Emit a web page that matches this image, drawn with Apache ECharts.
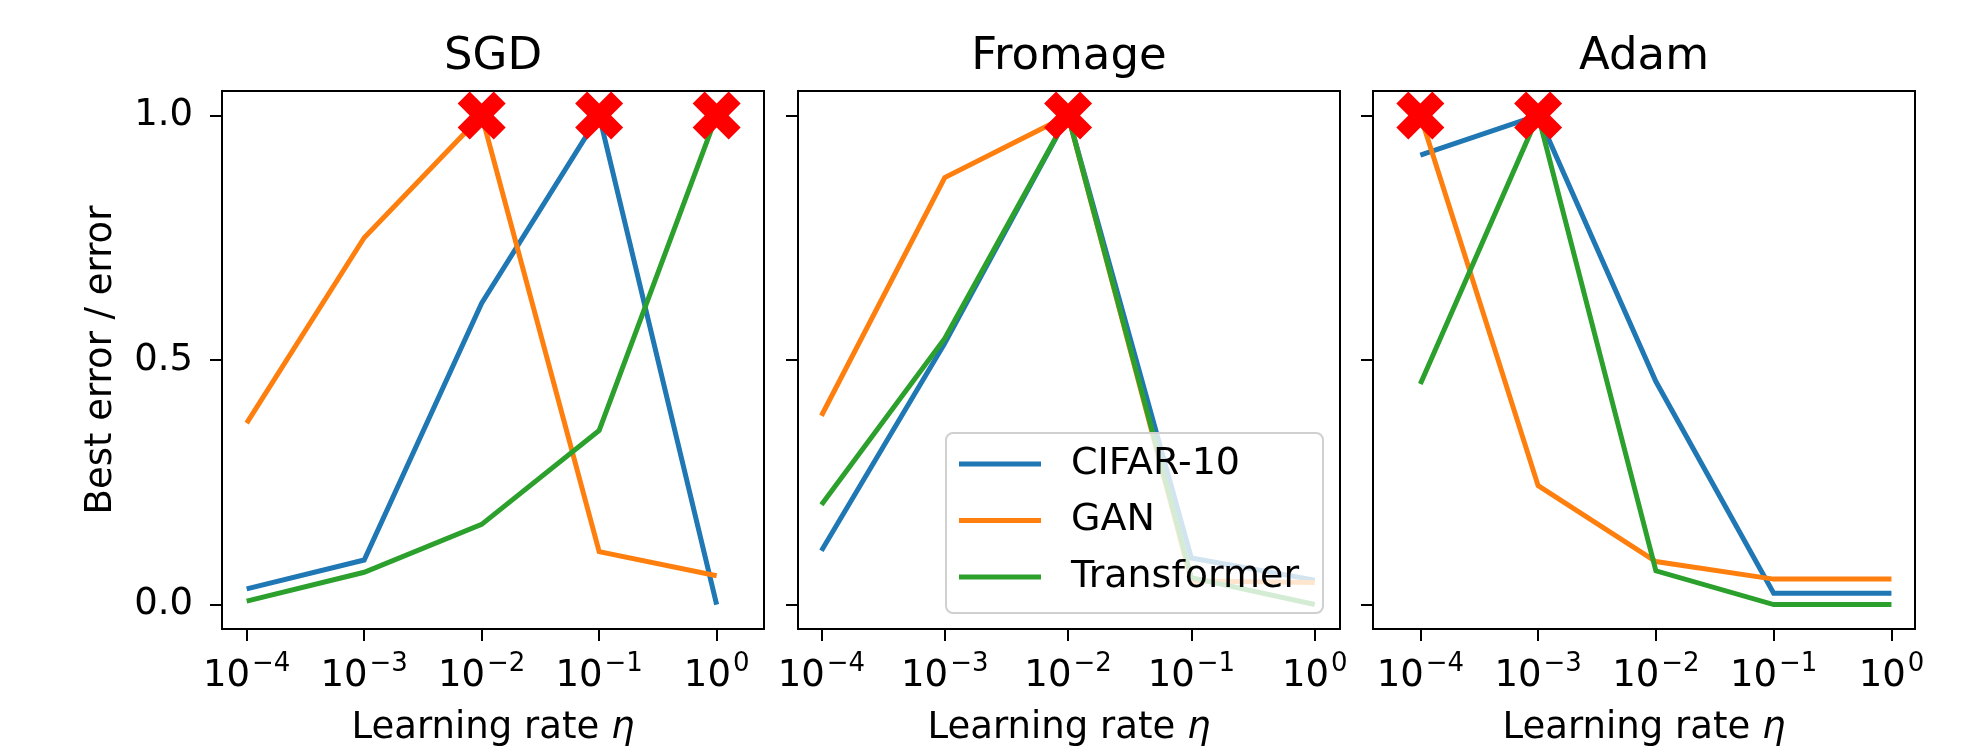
<!DOCTYPE html>
<html>
<head>
<meta charset="utf-8">
<script src="https://cdn.jsdelivr.net/npm/echarts@6/dist/echarts.min.js"></script>
<style>
  html, body { margin: 0; padding: 0; background: #fff; }
  #chart { width: 1972px; height: 752px; }
</style>
</head>
<body>
<div id="chart"></div>
<script>
// ---- data ----
const panelTitles = ['SGD', 'Fromage', 'Adam'];
const seriesNames = ['CIFAR-10', 'GAN', 'Transformer'];
const learningRates = [1e-4, 1e-3, 1e-2, 1e-1, 1];
const tickExponents = [-4, -3, -2, -1, 0];
const yTicks = [0, 0.5, 1.0];

const sgdCifar = [0.032, 0.091, 0.616, 1.0, 0.0];
const sgdGan = [0.371, 0.750, 1.0, 0.108, 0.059];
const sgdTransformer = [0.007, 0.066, 0.164, 0.356, 1.0];

const fromageCifar = [0.110, 0.534, 1.0, 0.095, 0.050];
const fromageGan = [0.386, 0.873, 1.0, 0.048, 0.045];
const fromageTransformer = [0.204, 0.544, 1.0, 0.055, 0.0];

const adamCifar = [0.919, 1.0, 0.456, 0.023, 0.023];
const adamGan = [1.0, 0.243, 0.088, 0.052, 0.052];
const adamTransformer = [0.451, 1.0, 0.069, 0.0, 0.0];

const sgdBest = [1e-2, 1e-1, 1];
const fromageBest = [1e-2];
const adamBest = [1e-4, 1e-3];

// ---- layout / style ----
const FONT = 'DejaVu Sans';
const colors = ['#1f77b4', '#ff7f0e', '#2ca02c'];
const gridLefts = [222, 798, 1373];
const gridWidth = 542;
const gridTop = 91;
const gridHeight = 538;
const xRanges = [[-4.21, 0.403], [-4.19, 0.205], [-4.402, 0.2]];
const yRange = [-0.05, 1.05];

const panelData = [
  [sgdCifar, sgdGan, sgdTransformer],
  [fromageCifar, fromageGan, fromageTransformer],
  [adamCifar, adamGan, adamTransformer]
];
const panelBest = [sgdBest, fromageBest, adamBest];

const xMarkPath = 'path://M3 0 L4 1 L3 2 L4 3 L3 4 L2 3 L1 4 L0 3 L1 2 L0 1 L1 0 L2 1 Z';

function expLabel(v) {
  const e = Math.round(v);
  const s = String(e).replace('-', '\u2212');
  return '{b|10}{s|' + s + '}';
}

const grids = [], xAxes = [], yAxes = [], titles = [], series = [];
for (let p = 0; p < 3; p++) {
  grids.push({
    left: gridLefts[p], top: gridTop, width: gridWidth, height: gridHeight,
    show: true, borderColor: '#000', borderWidth: 2, backgroundColor: 'transparent',
    containLabel: false
  });
  titles.push({
    text: panelTitles[p],
    left: gridLefts[p] + gridWidth / 2,
    top: 35,
    padding: 0,
    textAlign: 'center',
    textStyle: { fontFamily: FONT, fontSize: 45, fontWeight: 'normal', color: '#000' }
  });
  xAxes.push({
    type: 'value', gridIndex: p, min: xRanges[p][0], max: xRanges[p][1],
    splitLine: { show: false },
    axisLine: { show: true, onZero: false, lineStyle: { color: '#000', width: 2 } },
    axisTick: { show: true, length: 12, lineStyle: { color: '#000', width: 2 }, customValues: tickExponents },
    axisLabel: {
      show: true, margin: 22, customValues: tickExponents,
      formatter: expLabel, color: '#000', fontFamily: FONT,
      rich: {
        b: { fontFamily: FONT, fontSize: 37, color: '#000', lineHeight: 44, verticalAlign: 'bottom' },
        s: { fontFamily: FONT, fontSize: 26, color: '#000', lineHeight: 44, verticalAlign: 'top', padding: [0, 0, 0, 2] }
      }
    },
    name: 'Learning rate {i|\u03b7}',
    nameLocation: 'middle', nameGap: 81,
    nameTextStyle: {
      fontFamily: FONT, fontSize: 37, color: '#000',
      rich: { i: { fontFamily: FONT, fontSize: 37, fontStyle: 'italic', color: '#000' } }
    }
  });
  yAxes.push({
    type: 'value', gridIndex: p, min: yRange[0], max: yRange[1],
    splitLine: { show: false },
    axisLine: { show: true, onZero: false, lineStyle: { color: '#000', width: 2 } },
    axisTick: { show: true, length: 12, lineStyle: { color: '#000', width: 2 }, customValues: yTicks },
    axisLabel: {
      show: p === 0, margin: 29, customValues: yTicks,
      formatter: v => v.toFixed(1),
      fontFamily: FONT, fontSize: 37, color: '#000'
    },
    name: p === 0 ? 'Best error / error' : '',
    nameLocation: 'middle', nameGap: 102,
    nameTextStyle: { fontFamily: FONT, fontSize: 37, color: '#000' }
  });
  for (let k = 0; k < 3; k++) {
    series.push({
      type: 'line', name: seriesNames[k], xAxisIndex: p, yAxisIndex: p,
      data: learningRates.map((lr, i) => [Math.log10(lr), panelData[p][k][i]]),
      symbol: 'none', showSymbol: false,
      lineStyle: { color: colors[k], width: 5, cap: 'butt', join: 'miter' },
      itemStyle: { color: colors[k] },
      z: 2 + k * 0.01, animation: false
    });
  }
  series.push({
    type: 'scatter', name: 'best', xAxisIndex: p, yAxisIndex: p,
    data: panelBest[p].map(lr => [Math.log10(lr), 1.0]),
    symbol: xMarkPath, symbolSize: 48,
    itemStyle: { color: '#ff0000', opacity: 1 },
    z: 5, animation: false, silent: true
  });
}

const chart = echarts.init(document.getElementById('chart'), null, { renderer: 'canvas' });
chart.setOption({
  backgroundColor: '#fff',
  animation: false,
  title: titles,
  grid: grids,
  xAxis: xAxes,
  yAxis: yAxes,
  legend: {
    data: seriesNames,
    orient: 'vertical',
    icon: 'rect',
    left: 946, top: 433,
    padding: [11, 24, 16, 13],
    itemWidth: 82, itemHeight: 5, itemGap: 16.5,
    backgroundColor: 'rgba(255,255,255,0.8)',
    borderColor: '#d0d0d0', borderWidth: 2, borderRadius: 7,
    textStyle: { fontFamily: FONT, fontSize: 38, lineHeight: 40, color: '#000', padding: [0, 0, 0, 25] },
    selectedMode: false
  },
  series: series
});
</script>
</body>
</html>
